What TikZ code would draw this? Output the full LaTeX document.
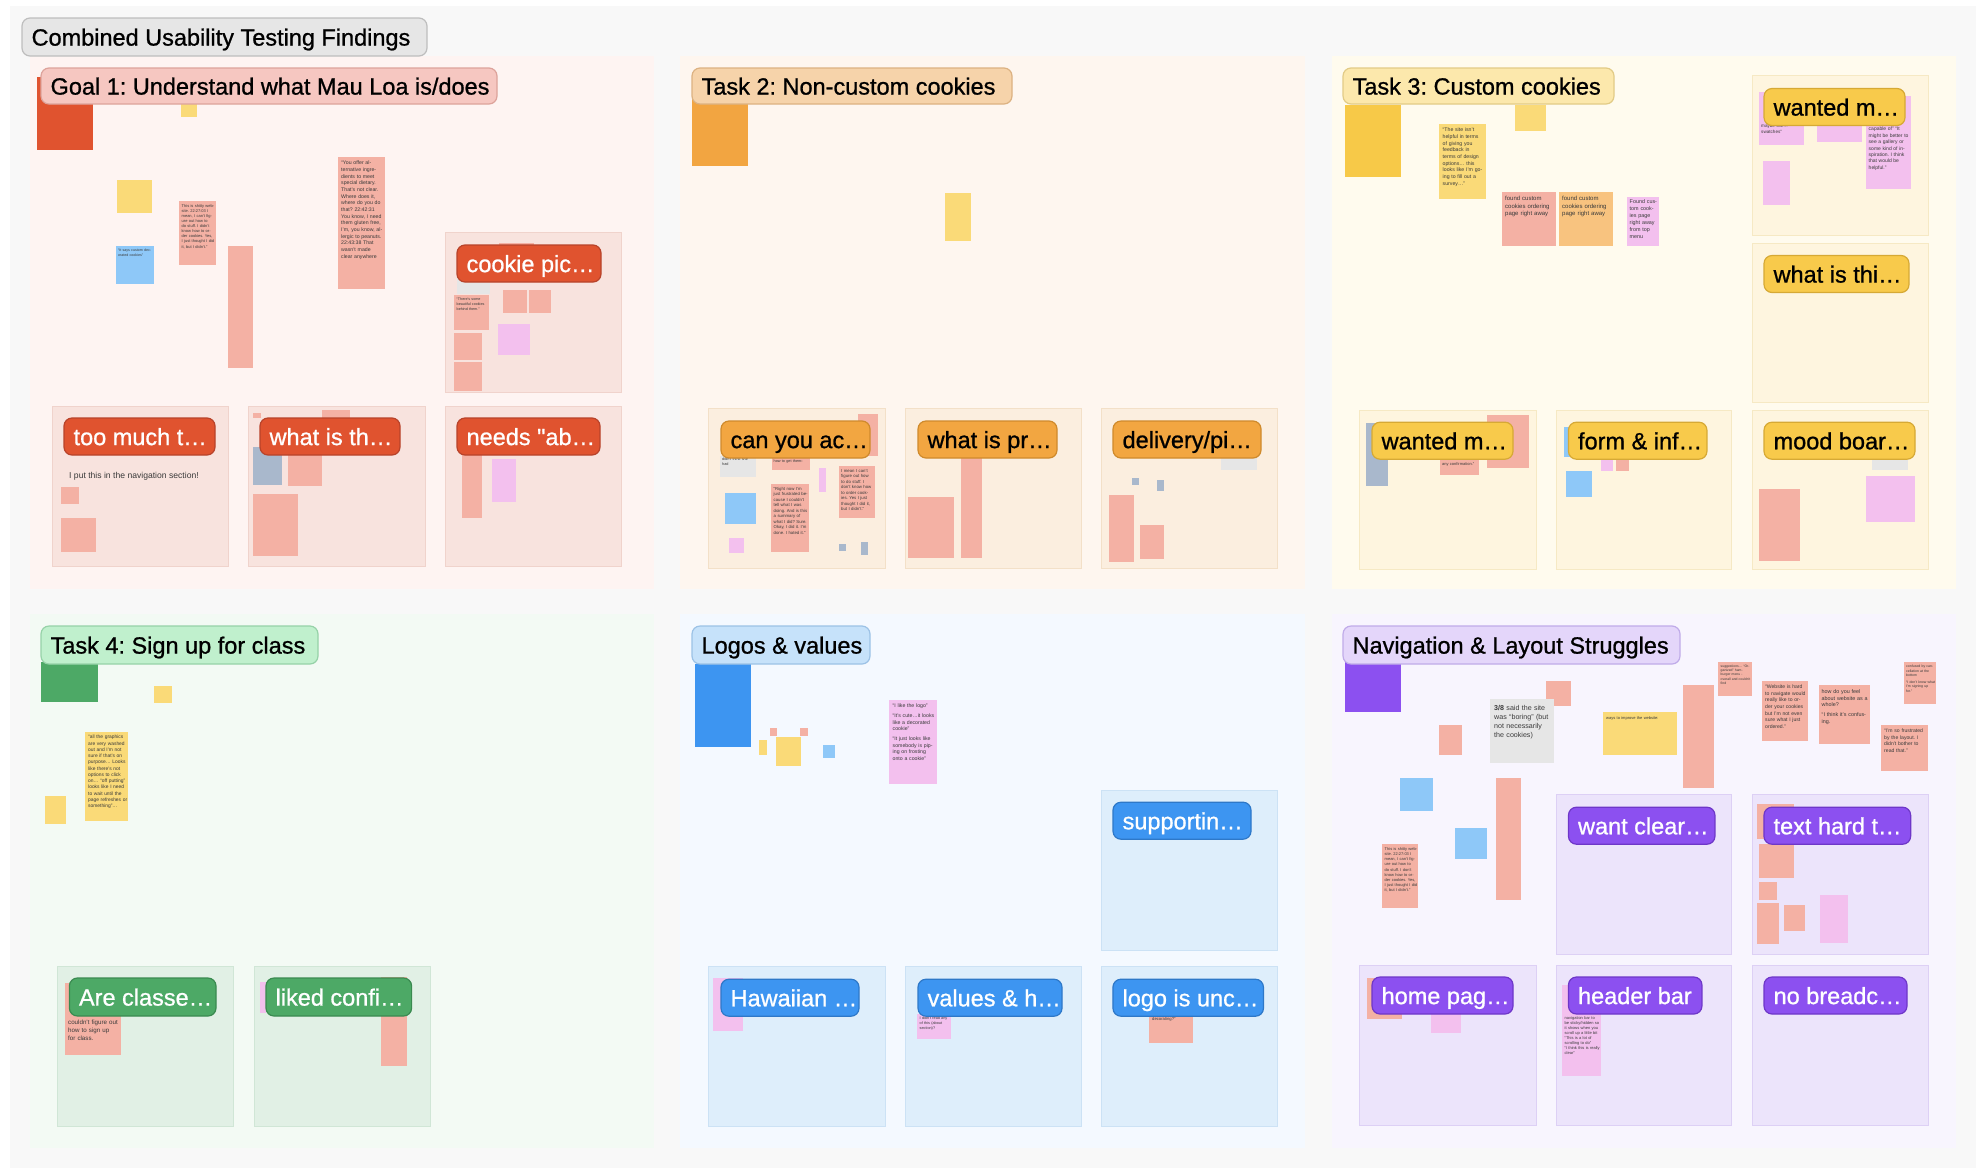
\documentclass[tikz,border=0pt]{standalone}
\usepackage{fontspec}
\setmainfont{Liberation Sans}
\newfontface\lblfont{Liberation Sans}[FakeBold=0.9, Ligatures=TeXOff]
\frenchspacing
\definecolor{board}{HTML}{F8F8F8}
\definecolor{s1bg}{HTML}{FEF4F2}\definecolor{s1fr}{HTML}{F8E3DE}\definecolor{s1frd}{HTML}{F0D3CC}
\definecolor{s2bg}{HTML}{FEF6EF}\definecolor{s2fr}{HTML}{FBEEDF}\definecolor{s2frd}{HTML}{F3E0C8}
\definecolor{s3bg}{HTML}{FFFBEE}\definecolor{s3fr}{HTML}{FEF5DF}\definecolor{s3frd}{HTML}{F6E9C4}
\definecolor{s4bg}{HTML}{F3FAF4}\definecolor{s4fr}{HTML}{E1F0E5}\definecolor{s4frd}{HTML}{D0E6D6}
\definecolor{s5bg}{HTML}{F4F9FF}\definecolor{s5fr}{HTML}{DEEEFB}\definecolor{s5frd}{HTML}{CCE2F5}
\definecolor{s6bg}{HTML}{F8F5FE}\definecolor{s6fr}{HTML}{ECE4FB}\definecolor{s6frd}{HTML}{DDD0F5}
\definecolor{lred}{HTML}{E0532F}\definecolor{lredd}{HTML}{B8432A}
\definecolor{lorg}{HTML}{F2A641}\definecolor{lorgd}{HTML}{CF8A2C}
\definecolor{lyel}{HTML}{F8CA4B}\definecolor{lyeld}{HTML}{D6A935}
\definecolor{lgrn}{HTML}{4DA966}\definecolor{lgrnd}{HTML}{3A8A50}
\definecolor{lblu}{HTML}{3D95F1}\definecolor{lblud}{HTML}{2E78C8}
\definecolor{lpur}{HTML}{8C50F0}\definecolor{lpurd}{HTML}{6E37C8}
\definecolor{hgray}{HTML}{E6E6E6}\definecolor{hgrayd}{HTML}{BEBEBE}
\definecolor{hred}{HTML}{F6C7C1}\definecolor{hredd}{HTML}{DDA39B}
\definecolor{horg}{HTML}{F6D3AA}\definecolor{horgd}{HTML}{DCB282}
\definecolor{hyel}{HTML}{FCE8AC}\definecolor{hyeld}{HTML}{E2CB86}
\definecolor{hgrn}{HTML}{C0F0CD}\definecolor{hgrnd}{HTML}{96D2A8}
\definecolor{hblu}{HTML}{C6E2FA}\definecolor{hblud}{HTML}{9CC2E6}
\definecolor{hpur}{HTML}{E4D6FA}\definecolor{hpurd}{HTML}{C0ABE9}
\definecolor{spk}{HTML}{F4B1A4}\definecolor{smg}{HTML}{F3C0EE}
\definecolor{syl}{HTML}{FADA78}\definecolor{sbl}{HTML}{8EC8F8}
\definecolor{sgb}{HTML}{A9B8CC}\definecolor{sgy}{HTML}{E6E6E6}
\definecolor{sor}{HTML}{F8C37F}\definecolor{stxc}{HTML}{3A3A3A}
\definecolor{bred}{HTML}{E0532F}\definecolor{borg}{HTML}{F2A541}
\definecolor{byel}{HTML}{F7C948}\definecolor{bgrn}{HTML}{4DA966}
\definecolor{bblu}{HTML}{3D95F1}\definecolor{bpur}{HTML}{8C50F0}
\tikzset{
  lblbox/.style n args={2}{rounded corners=8pt, line width=1.2pt, fill=#1, draw=#2, inner sep=0pt},
  lbltxt/.style={anchor=base west, inner sep=0pt, font=\lblfont\fontsize{23.5}{28}\selectfont},
  stxt/.style={anchor=north west, inner sep=0pt, align=left, text=stxc},
  frame/.style n args={2}{fill=#1, draw=#2, line width=0.8pt}
}
\newcommand\stk[5]{\fill[#5] (#1,#2) rectangle ++(#3,#4);}
\newcommand\stx[6]{\node[stxt, text width=#4pt, font=\fontsize{#5}{\fpeval{1.28*#5}}\selectfont] (#1) at (#2,#3) {#6};}
\newcommand\frm[6]{\path[frame={#5}{#6}] (#1,#2) rectangle (#3,#4);}
\newcommand\lbl[9]{\node[lblbox={#6}{#7}, minimum width=#4pt, minimum height=#5pt] (#1) at (#2,#3) {};
  \node[lbltxt, text=#8] (#1-t) at ([xshift=10pt,yshift=-8.6pt]#1.west) {#9};}
\begin{document}
\begin{tikzpicture}[x=1pt,y=-1pt]
\useasboundingbox (0,0) rectangle (1976,1168);
\fill[white] (0,0) rectangle (1976,1168);
\fill[board] (10,6) rectangle (1976,1168);
% sections
\fill[s1bg] (29.5,55.7) rectangle (654,588.5);
\fill[s2bg] (680,55.7) rectangle (1305,588.5);
\fill[s3bg] (1332,55.7) rectangle (1956,588.5);
\fill[s4bg] (29.5,614) rectangle (654,1148);
\fill[s5bg] (680,614) rectangle (1305,1148);
\fill[s6bg] (1332,614) rectangle (1956,1148);
% frames
\frm{445}{232.5}{621}{392.4}{s1fr}{s1frd}
\frm{52}{406}{228}{566}{s1fr}{s1frd}
\frm{248}{406}{425}{566}{s1fr}{s1frd}
\frm{445}{406}{621}{566}{s1fr}{s1frd}
\frm{708}{408}{885}{568}{s2fr}{s2frd}
\frm{905}{408}{1081}{568}{s2fr}{s2frd}
\frm{1101}{408}{1277}{568}{s2fr}{s2frd}
\frm{1752}{75}{1928}{235}{s3fr}{s3frd}
\frm{1752}{243}{1928}{402.6}{s3fr}{s3frd}
\frm{1359}{410}{1536}{569}{s3fr}{s3frd}
\frm{1556}{410}{1731}{569}{s3fr}{s3frd}
\frm{1752}{410}{1928}{569}{s3fr}{s3frd}
\frm{57}{966}{233.6}{1126}{s4fr}{s4frd}
\frm{254}{966}{430}{1126}{s4fr}{s4frd}
\frm{1101}{790}{1277}{950.5}{s5fr}{s5frd}
\frm{708}{966.7}{885}{1126}{s5fr}{s5frd}
\frm{905}{966.7}{1081}{1126}{s5fr}{s5frd}
\frm{1101}{966.7}{1277}{1126}{s5fr}{s5frd}
\frm{1556}{794.6}{1731}{954}{s6fr}{s6frd}
\frm{1752}{794.6}{1928}{954}{s6fr}{s6frd}
\frm{1359}{965}{1536}{1125}{s6fr}{s6frd}
\frm{1556}{965}{1731}{1125}{s6fr}{s6frd}
\frm{1752}{965}{1928}{1125}{s6fr}{s6frd}
% ---------- Section 1 stickies
\stk{37}{77}{56}{73}{bred}
\stk{181}{104}{16}{12.6}{syl}
\stk{116.6}{179.5}{35.4}{33}{syl}
\stk{115.7}{246}{38.3}{37.7}{sbl}
\stx{s1a}{118}{249}{34}{3.6}{“It says custom decorated cookies”}
\stk{179}{201}{37}{63.5}{spk}
\stx{s1b}{181.5}{204}{33}{4}{This is shitty website. 22:27:03 I mean, I can't figure out how to do stuff. I didn't know how to order cookies. Yes, I just thought I did it, but I didn't.”}
\stk{227.7}{246}{25.3}{121.6}{spk}
\stk{338}{157}{47}{131.6}{spk}
\stx{s1c}{341}{161}{42}{5.2}{“You offer alternative ingredients to meet special dietary. That's not clear. Where does it, where do you do that? 22:42:31 You know, I need them gluten free, I'm, you know, allergic to peanuts. 22:43:38 That wasn't made clear anywhere}
\stk{499}{242.7}{34.7}{8}{spk}
\stk{456.6}{278}{32.9}{15.5}{sgy}
\stk{454}{295}{34.6}{35}{spk}
\stx{s1d}{456.5}{298}{30}{3.7}{“There's some beautiful cookies behind them.”}
\stk{454}{332.6}{28}{27.4}{spk}
\stk{454}{362}{28}{28.5}{spk}
\stk{503}{290}{24}{23}{spk}
\stk{529}{290}{22}{23}{spk}
\stk{498}{324}{31.5}{31}{smg}
\stk{61.4}{486.5}{17.6}{17.5}{spk}
\stk{61.4}{517.7}{34.1}{33.8}{spk}
\stk{252.5}{413}{8.5}{5.4}{spk}
\stk{322}{410}{28}{10}{spk}
\stk{252.5}{447}{29.5}{38}{sgb}
\stk{288}{451.5}{34}{34.5}{spk}
\stk{252.5}{494}{45.5}{61.7}{spk}
\stk{461.7}{455}{19.8}{63}{spk}
\stk{492}{459}{23.6}{42.5}{smg}
\node[anchor=base west, inner sep=0pt, font=\fontsize{8.6}{10}\selectfont, text=stxc] (nav-note) at (69,478) {I put this in the navigation section!};
% ---------- Section 2 stickies
\stk{691.6}{92}{55.9}{73.5}{borg}
\stk{944.5}{192.6}{26.9}{48.2}{syl}
\stk{720}{456}{36}{21}{sgy}
\stx{s2a}{722}{458}{32}{3.8}{didn't think she had}
\stk{771.5}{452}{38}{18}{spk}
\stx{s2b}{773.5}{459.5}{34}{3.8}{how to get them›}
\stk{858}{413.8}{20.4}{42.2}{spk}
\stk{819}{467.6}{6.8}{24.4}{smg}
\stk{724.8}{493}{31.2}{30.7}{sbl}
\stk{771}{484}{38.4}{68}{spk}
\stx{s2c}{773.5}{487}{34}{4.3}{“Right now I'm just frustrated because I couldn't tell what I was doing. And is this a summary of what I did? Sure. Okay, I did it. I'm done. I hated it.”}
\stk{838.5}{465.8}{36.5}{52.6}{spk}
\stx{s2d}{841}{469}{32}{4.3}{I mean I can't figure out how to do stuff. I don't know how to order cookies. Yes I just thought I did it, but I didn't.”}
\stk{729.4}{538}{14.8}{15}{smg}
\stk{838.5}{544}{7.1}{7}{sgb}
\stk{861}{541.8}{7.3}{12.8}{sgb}
\stk{908}{496.6}{45.8}{61.4}{spk}
\stk{961}{458}{20.5}{100}{spk}
\stk{1221}{458}{35.8}{11.5}{sgy}
\stk{1132}{478}{7}{7}{sgb}
\stk{1156.6}{480}{7.2}{11}{sgb}
\stk{1109}{495}{25}{67}{spk}
\stk{1140}{524.8}{23.8}{34.6}{spk}
% ---------- Section 3 stickies
\stk{1344.6}{104.6}{56}{72.2}{byel}
\stk{1439}{124}{47}{74.6}{syl}
\stx{s3a}{1442.5}{128}{41}{5.2}{“The site isn't helpful in terms of giving you feedback in terms of design options… this looks like I'm going to fill out a survey…”}
\stk{1515}{104.6}{31}{26}{syl}
\stk{1502}{192}{53.5}{53.7}{spk}
\stx{s3b}{1505}{196}{48}{6}{found custom cookies ordering page right away}
\stk{1559}{192}{54}{53.7}{sor}
\stx{s3c}{1562}{196}{48}{6}{found custom cookies ordering page right away}
\stk{1627}{196.8}{31.6}{48.9}{smg}
\stx{s3d}{1629.5}{199.5}{28}{5.4}{Found custom cookies page right away from top menu}
\stk{1758.8}{92}{45.2}{52.5}{smg}
\stx{s3e}{1761}{124}{41}{4.6}{maybe like… swatches”}
\stk{1817}{120}{45}{21.5}{smg}
\stk{1865.7}{96}{45.3}{93}{smg}
\stx{s3f}{1868.5}{127}{41}{5}{capable of” “It might be better to see a gallery or some kind of inspiration. I think that would be helpful.”}
\stk{1762.5}{161}{27}{43.7}{smg}
\stk{1366}{423}{21.5}{63}{sgb}
\stk{1486.5}{415}{42}{53.4}{spk}
\stk{1440}{457}{39}{18}{spk}
\stx{s3g}{1442}{462}{36}{4}{any confirmation.”}
\stk{1564}{427}{6}{30}{sbl}
\stk{1566.4}{471}{25.6}{25.6}{sbl}
\stk{1600.5}{459.7}{12.5}{11.3}{smg}
\stk{1615.7}{459.7}{13}{11.3}{spk}
\stk{1872.4}{459.7}{35.3}{10.3}{sgy}
\stk{1758.8}{489}{41.6}{71.6}{spk}
\stk{1865.7}{476}{48.8}{45.8}{smg}
% ---------- Section 4 stickies
\stk{40.8}{662}{56.8}{39.7}{bgrn}
\stk{154}{685.5}{17.7}{17.5}{syl}
\stk{85.4}{732}{43}{89}{syl}
\stx{s4a}{88}{735}{39}{4.9}{“all the graphics are very washed out and I'm not sure if that's on purpose… Looks like there's not options to click on… “off putting” looks like I need to wait until the page refreshes or something”…}
\stk{45}{796.4}{21}{28}{syl}
\stk{65}{983}{55.8}{72}{spk}
\stx{s4b}{68}{1020}{50}{6.2}{couldn't figure out how to sign up for class.}
\stk{260}{982}{6}{30.8}{smg}
\stk{381}{977}{25.6}{89}{spk}
% ---------- Section 5 stickies
\stk{694.5}{663.7}{56}{83}{bblu}
\stk{770}{728}{7.4}{7.6}{spk}
\stk{800}{728}{7.7}{7.6}{spk}
\stk{759}{740.4}{7.5}{14.6}{syl}
\stk{776}{737.4}{25.4}{28.8}{syl}
\stk{823}{744.8}{12}{12.9}{sbl}
\stk{889.4}{700}{47.6}{83.5}{smg}
\stx{s5a}{892.5}{704}{43}{5.2}{“I like the logo”\\[3pt]“It's cute…it looks like a decorated cookie”\\[3pt]“It just looks like somebody is piping on frosting onto a cookie”}
\stk{713}{978}{29.5}{52.5}{smg}
\stk{917}{1014}{34}{24.6}{smg}
\stx{s5b}{919.5}{1017}{30}{3.8}{I didn't read any of this (about section)?}
\stk{1149}{1014}{44}{28.6}{spk}
\stx{s5c}{1152}{1017}{40}{4.2}{decorating?”}
% ---------- Section 6 stickies
\stk{1345}{662}{56}{50.4}{bpur}
\stk{1546}{681.4}{24.6}{24.3}{spk}
\stk{1490}{699}{63.8}{63.5}{sgy}
\stx{s6a}{1494}{705}{58}{7.1}{\textbf{3/8} said the site was “boring” (but not necessarily the cookies)}
\stk{1438.5}{724.5}{23.1}{30.5}{spk}
\stk{1603}{712.4}{74}{42.6}{syl}
\stx{s6b}{1606}{716}{68}{4}{ways to improve the website:}
\stk{1683.4}{685}{30.3}{103.3}{spk}
\stk{1718.4}{662}{33.6}{34}{spk}
\stx{s6c}{1720.5}{664.5}{30}{3.4}{suggestions… “Organized” hamburger menu - overall and couldn't find}
\stk{1762}{681.4}{46.4}{59.6}{spk}
\stx{s6d}{1765}{685}{42}{5.1}{“Website is hard to navigate would really like to order your cookies but I'm not even sure what I just ordered.”}
\stk{1818.5}{685}{51}{59}{spk}
\stx{s6e}{1821.5}{689}{46}{5.4}{how do you feel about website as a whole?\\[3pt]“I think it's confusing.}
\stk{1904}{662}{32.4}{42.3}{spk}
\stx{s6f}{1906}{665}{29}{3.5}{confused by cancellation at the bottom\\[2pt]“I don't know what I'm signing up for.”}
\stk{1881.2}{724.5}{46.3}{46.1}{spk}
\stx{s6g}{1884}{729}{42}{5.1}{“I'm so frustrated by the layout. I didn't bother to read that.”}
\stk{1400}{778}{33}{33}{sbl}
\stk{1455.3}{827.7}{31.2}{31.3}{sbl}
\stk{1496}{778}{25}{122.4}{spk}
\stk{1382}{844.3}{36.3}{63.4}{spk}
\stx{s6h}{1384.5}{847.5}{33}{4}{This is shitty website. 22:27:03 I mean, I can't figure out how to do stuff. I don't know how to order cookies. Yes, I just thought I did it, but I didn't.”}
\stk{1757}{803.8}{36.7}{35}{spk}
\stk{1758.8}{844.3}{34.9}{33.9}{spk}
\stk{1758.8}{882}{18.1}{17.6}{spk}
\stk{1757}{903.3}{22}{40.5}{spk}
\stk{1784}{905}{21}{26}{spk}
\stk{1819.8}{894.5}{27.8}{48.2}{smg}
\stk{1366.5}{977.8}{35.8}{41.6}{spk}
\stk{1430.5}{1014}{30.7}{19}{smg}
\stk{1562.2}{985}{38.3}{90.8}{smg}
\stx{s6i}{1564.5}{1016}{35}{4}{navigation bar to be sticky/hidden so it shows when you scroll up a little bit\\“This is a lot of scrolling to do”\\“I think this is really clear”}
% ---------- headers
\lbl{title}{224.5}{37}{405}{38}{hgray}{hgrayd}{black}{Combined Usability Testing Findings}
\lbl{goal1}{269}{86}{456}{36}{hred}{hredd}{black}{Goal 1: Understand what Mau Loa is/does}
\lbl{task2}{852}{86}{320}{36}{horg}{horgd}{black}{Task 2: Non-custom cookies}
\lbl{task3}{1478.5}{86}{271}{36}{hyel}{hyeld}{black}{Task 3: Custom cookies}
\lbl{task4}{179.5}{645}{277}{38}{hgrn}{hgrnd}{black}{Task 4: Sign up for class}
\lbl{logos}{781}{645}{178}{38}{hblu}{hblud}{black}{Logos \& values}
\lbl{nav}{1511.5}{645}{337}{38}{hpur}{hpurd}{black}{Navigation \& Layout Struggles}
% ---------- cluster labels
\lbl{cookiepic}{529}{263.5}{144}{37}{lred}{lredd}{white}{cookie pic…}
\lbl{toomuch}{139.5}{436.5}{151}{37}{lred}{lredd}{white}{too much t…}
\lbl{whatisth}{330}{436.5}{140}{37}{lred}{lredd}{white}{what is th…}
\lbl{needsab}{528.5}{436.5}{143}{37}{lred}{lredd}{white}{needs "ab…}
\lbl{canyou}{795.5}{439.5}{149}{37}{lorg}{lorgd}{black}{can you ac…}
\lbl{whatispr}{987.5}{439.5}{139}{37}{lorg}{lorgd}{black}{what is pr…}
\lbl{delivery}{1187}{439.5}{148}{37}{lorg}{lorgd}{black}{delivery/pi…}
\lbl{wantedtop}{1834.5}{107}{141}{37}{lyel}{lyeld}{black}{wanted m…}
\lbl{whatisthi}{1836.5}{274}{145}{37}{lyel}{lyeld}{black}{what is thi…}
\lbl{wantedbot}{1442.5}{440.7}{141}{37}{lyel}{lyeld}{black}{wanted m…}
\lbl{forminf}{1637.7}{440.7}{138.5}{37}{lyel}{lyeld}{black}{form \& inf…}
\lbl{moodboar}{1839.5}{440.7}{151}{37}{lyel}{lyeld}{black}{mood boar…}
\lbl{areclasse}{142.7}{997}{146.6}{38}{lgrn}{lgrnd}{white}{Are classe…}
\lbl{likedconfi}{338.8}{997}{145.6}{38}{lgrn}{lgrnd}{white}{liked confi…}
\lbl{supportin}{1182}{820.7}{138}{37}{lblu}{lblud}{white}{supportin…}
\lbl{hawaiian}{790}{997.7}{138}{37}{lblu}{lblud}{white}{Hawaiian …}
\lbl{valuesh}{990}{997.7}{144}{37}{lblu}{lblud}{white}{values \& h…}
\lbl{logounc}{1188.2}{997.7}{150.5}{37}{lblu}{lblud}{white}{logo is unc…}
\lbl{wantclear}{1641.7}{825.7}{146.5}{37}{lpur}{lpurd}{white}{want clear…}
\lbl{texthard}{1837.3}{825.7}{146.7}{37}{lpur}{lpurd}{white}{text hard t…}
\lbl{homepag}{1442.5}{995.5}{141}{37}{lpur}{lpurd}{white}{home pag…}
\lbl{headerbar}{1635.2}{995.5}{133.5}{37}{lpur}{lpurd}{white}{header bar}
\lbl{nobreadc}{1835.5}{995.5}{143}{37}{lpur}{lpurd}{white}{no breadc…}
\end{tikzpicture}
\end{document}
